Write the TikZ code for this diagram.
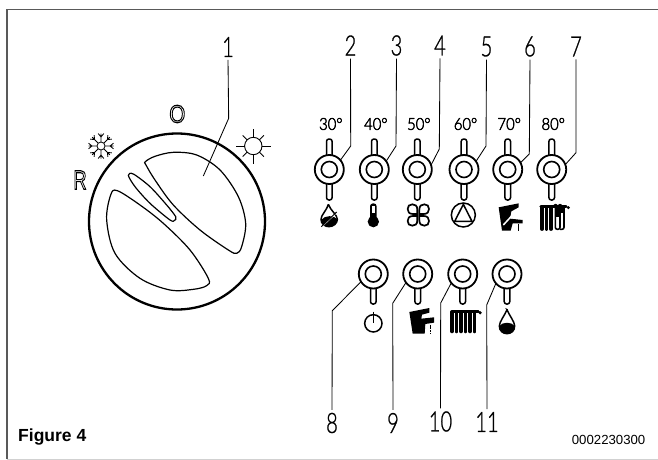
\documentclass[tikz,border=0pt]{standalone}
\usepackage{fontspec}
\usepackage{graphicx}
\setmainfont{Liberation Sans}
\newfontfamily\techfont{Lato Light}
\usetikzlibrary{calc}
\newcommand{\nar}[1]{\scalebox{.72}[1]{\special{pdf:code 2 Tr 0.3 w}#1\special{pdf:code 0 Tr}}}
\newcommand{\wid}[1]{\scalebox{.9}[1]{\special{pdf:code 2 Tr 0.45 w}#1\special{pdf:code 0 Tr}}}
\newcommand{\outl}[1]{\special{pdf:code 1 Tr 1.1 w}#1\special{pdf:code 0 Tr}}
\tikzset{
  x=1pt,y=-1pt,
  ring/.style={circle,draw,line width=1.8pt,minimum size=29pt,inner sep=0pt,outer sep=0pt,fill=white},
  hole/.style={circle,draw,line width=1.6pt,minimum size=16pt,inner sep=0pt,outer sep=0pt},
  bar/.style={draw,line width=1.5pt,fill=white,rounded corners=2.4pt},
  leader/.style={line width=.85pt},
  num/.style={font=\techfont\fontsize{28}{28}\selectfont,inner sep=0pt,outer sep=3pt},
  deg/.style={font=\techfont\fontsize{16.5}{17}\selectfont,inner sep=0pt},
  sym/.style={line width=1.5pt},
  zoomed/.style={scale=1/3}
}
\newcommand{\upswitch}[3]{%
  \begin{scope}[shift={(#2,169.5)}]
    \draw[bar] (-2.8,-30.5) rectangle (2.8,-12);
    \draw[bar] (-2.8,12) rectangle (2.8,30.5);
    \node[ring] (#1) at (0,0) {};
    \node[hole] (#1i) at (0,0) {};
    \node[deg] (#1d) at (1.5,-45.5) {\wid{#3}};
  \end{scope}}
\newcommand{\lowswitch}[2]{%
  \begin{scope}[shift={(#2,274)}]
    \draw[bar] (-2.8,11) rectangle (2.8,30);
    \node[ring] (#1) at (0,0) {};
    \node[hole] (#1i) at (0,0) {};
  \end{scope}}
\newcommand{\radcols}[5]{% x0 step count ytop ybottom
  \foreach \k in {1,...,#3}{
    \draw[line width=3.9pt,line cap=round] ({#1+(\k-1)*#2},#4) -- ({#1+(\k-1)*#2},#5);}}
\begin{document}
\begin{tikzpicture}
\useasboundingbox (0,0) rectangle (658,460);
% frame
\draw[line width=1.6pt,color=black!65] (7,459) -- (7,9.7) -- (658,9.7);
\draw[line width=1pt,color=black!18] (7,459.2) -- (658,459.2);
% dial
\node[circle,draw,line width=2.3pt,minimum size=176pt,inner sep=0pt,outer sep=0pt] (dial) at (177,221.5) {};
\begin{scope}[shift={(40,20)},zoomed]
  \draw[line width=1.2pt] plot[smooth cycle,tension=.55] coordinates {
    (316,425) (345,409) (400,397) (470,405) (540,450) (595,530) (617,610) (605,680) (590,700) (565,690) (480,630) (400,555) (345,480) (318,435)};
  \draw[line width=1.2pt] plot[smooth cycle,tension=.55] coordinates {
    (232,512) (212,525) (200,600) (225,700) (300,775) (390,810) (460,808) (500,797) (505,775) (450,690) (370,610) (300,555)};
  \draw[line width=1.2pt] plot[smooth cycle,tension=.5] coordinates {
    (265,466) (280,462) (330,500) (380,555) (407,590) (404,601) (390,600) (330,550) (285,500)};
  \coordinate (t1) at (490,468);
  \coordinate (c1) at (566,295);
\end{scope}
\node[num] (n1) at (228,47) {\nar{1}};
\draw[leader] (n1.south) -- (c1) -- (t1);
% mode marks
\node[inner sep=0pt,font=\fontsize{25}{25}\selectfont] (mO) at (177.3,114) {\scalebox{.82}[1]{\outl{O}}};
\node[inner sep=0pt,font=\fontsize{27}{27}\selectfont] (mR) at (80,180) {\scalebox{.68}[1]{\outl{R}}};
% snowflake
\begin{scope}[shift={(101,146)},line width=.8pt]
  \draw (0,0) circle (4);
  \foreach \a in {0,45,...,315}{
    \begin{scope}[rotate=\a]
      \draw (4,0) -- (12.5,0) (9,0) -- (12.5,-2.8) (9,0) -- (12.5,2.8);
    \end{scope}}
\end{scope}
% sun
\begin{scope}[shift={(253.3,146)},line width=.9pt]
  \draw (0,0) circle (8.7);
  \foreach \a in {0,90,180,270}{\draw[rotate=\a] (8.7,0) -- (17.5,0);}
  \foreach \a in {45,135,225,315}{\draw[rotate=\a] (8.7,0) -- (15,0);}
\end{scope}
% upper switches
\upswitch{s2}{329.3}{30°}
\upswitch{s3}{374.3}{40°}
\upswitch{s4}{417.3}{50°}
\upswitch{s5}{464}{60°}
\upswitch{s6}{507.7}{70°}
\upswitch{s7}{551.7}{80°}
\node[num] (n2) at (350.5,45.5) {\nar{2}};
\node[num] (n3) at (396.5,45.5) {\nar{3}};
\node[num] (n4) at (440,45.5) {\nar{4}};
\node[num] (n5) at (486.5,46.5) {\nar{5}};
\node[num] (n6) at (530,46.5) {\nar{6}};
\node[num] (n7) at (576,46.5) {\nar{7}};
\coordinate (c2) at (350.7,146);
\coordinate (c3) at (396,146);
\coordinate (c4) at (439.3,149);
\coordinate (c5) at (486,146);
\coordinate (c6) at (529.3,154);
\coordinate (c7) at (576,152.7);
\draw[leader] (n2.south) -- (c2) -- (s2.40);
\draw[leader] (n3.south) -- (c3) -- (s3.35);
\draw[leader] (n4.south) -- (c4) -- (s4.18);
\draw[leader] (n5.south) -- (c5) -- (s5.34);
\draw[leader] (n6.south) -- (c6) -- (s6.28);
\draw[leader] (n7.south) -- (c7) -- (s7.20);
% lower switches
\lowswitch{s8}{373.3}
\lowswitch{s9}{417.7}
\lowswitch{s10}{462.7}
\lowswitch{s11}{507}
\node[num] (n8) at (332,423) {\nar{8}};
\node[num] (n9) at (393,423) {\nar{9}};
\node[num] (n10) at (440.5,421.5) {\nar{10}};
\node[num] (n11) at (487,422) {\nar{11}};
\coordinate (c8) at (332.3,310.7);
\coordinate (c9) at (392.7,303.3);
\coordinate (c10) at (440.7,303);
\coordinate (c11) at (486.7,305);
\draw[leader] (n8.north) -- (c8) -- (s8.212);
\draw[leader] (n9.north) -- (c9) -- (s9.216);
\draw[leader] (n10.north) -- (c10) -- (s10.218);
\draw[leader] (n11.north) -- (c11) -- (s11.220);
% upper symbols
\begin{scope}[shift={(310,170)},zoomed]
  % crossed flame
  \draw[sym] (55,103) .. controls (48,125) and (33,135) .. (33,148) .. controls (33,162) and (45,170) .. (57,170) .. controls (70,170) and (82,160) .. (82,148) .. controls (82,135) and (62,122) .. cycle;
  \fill (33,150) .. controls (33,162) and (45,170) .. (57,170) .. controls (70,170) and (82,160) .. (82,148) .. controls (72,135) and (45,135) .. cycle;
  \draw[white,line width=.9pt] (38,168) -- (76,132);
  \draw[line width=1pt] (34,170) -- (80,126);
  % thermometer
  \fill (190,155) circle (17);
  \fill[rounded corners=3pt] (180,100) rectangle (200,165);
  \fill[white] (186,108) rectangle (194,128);
  % fan
  \begin{scope}[shift={(325,135)},line width=1.7pt]
    \foreach \a in {0,90,180,270}{
      \draw[rotate=\a] (3,-3) -- (3,-16) .. controls (3,-28) and (10,-32) .. (18,-32) .. controls (27,-32) and (32,-27) .. (32,-18) .. controls (32,-10) and (28,-3) .. (16,-3) -- cycle;}
  \end{scope}
\end{scope}
\begin{scope}[shift={(440,170)},zoomed]
  % pump
  \draw[sym] (70,135) circle (36);
  \draw[sym] (70,103) -- (44,154) -- (96,154) -- cycle;
  % tap with slash
  \fill (176,112) -- (236,100) -- (236,112) -- (214,124) -- (210,146) -- (248,150) -- (248,160) -- (218,160) -- (212,182) -- (186,182) -- cycle;
  \draw[white,line width=1.5pt] (190,165) -- (236,115);
  \draw[line width=1pt] (236,162) -- (236,182);
  % radiator
  \radcols{306}{13.5}{3}{113}{177}
  \draw[line width=3.2pt,line cap=round] (303,110) -- (378,110);
  \foreach \x in {346.5,360}{\fill (\x,108) circle (6.5);}
  \draw[line width=1.6pt,rounded corners=2pt] (346,112) -- (346,178) -- (360,178) -- (360,112) (360,178) -- (372,178) -- (372,112);
  \fill (346,113) rectangle (360,140);
  \fill (360,113) rectangle (372,130);
  \fill (385,113) circle (5);
\end{scope}
% lower symbols
\begin{scope}[shift={(320,260)},zoomed]
  \draw[sym] (160,190) circle (26);
  \draw[sym] (160,155) -- (160,190);
\end{scope}
\begin{scope}[shift={(370,240)},zoomed]
  % tap
  \fill (118,216) -- (178,204) -- (178,218) -- (156,224) -- (154,236) -- (192,232) -- (192,248) -- (166,252) -- (164,281) -- (128,281) -- cycle;
  \draw[line width=1.6pt,dash pattern=on 2pt off .8pt] (181,254) -- (181,281);
  % radiator
  \radcols{246}{13.5}{6}{216}{274}
  \draw[line width=2.6pt,line cap=round] (246,214) -- (325,214);
  \fill (330,218) circle (5.5);
  % drop
  \draw[sym] (411,209) .. controls (405,225) and (388,245) .. (388,258) .. controls (388,272) and (398,281) .. (411,281) .. controls (424,281) and (434,272) .. (434,258) .. controls (434,245) and (417,225) .. cycle;
  \fill (388,258) .. controls (388,272) and (398,281) .. (411,281) .. controls (424,281) and (434,272) .. (434,258) .. controls (425,245) and (397,245) .. cycle;
\end{scope}
% captions
\node[anchor=base west,inner sep=0pt,font=\fontsize{17.5}{18}\selectfont\bfseries] (fig) at (18,441.5) {Figure 4};
\node[anchor=base east,inner sep=0pt,font=\fontsize{13.2}{14}\selectfont] (code) at (645.5,444) {0002230300};
\end{tikzpicture}
\end{document}
